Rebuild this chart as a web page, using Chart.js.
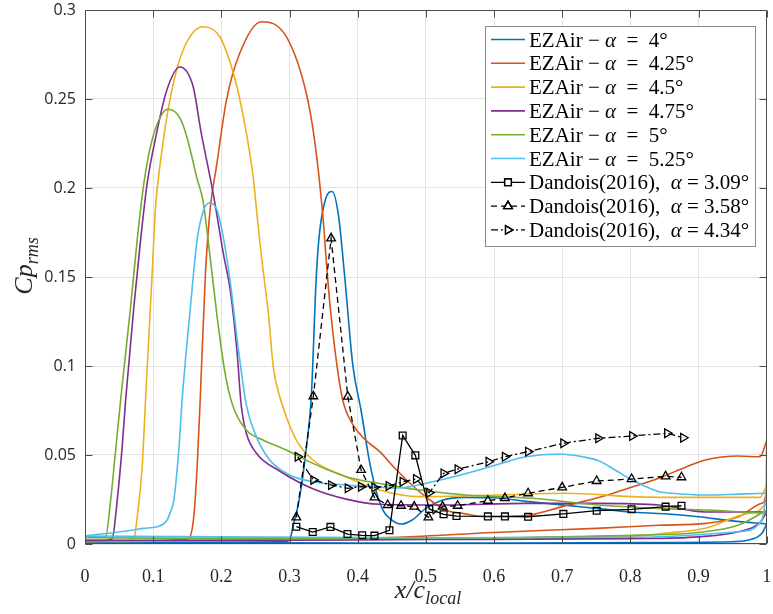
<!DOCTYPE html>
<html>
<head>
<meta charset="utf-8">
<script src="https://cdn.jsdelivr.net/npm/chart.js@4.4.1/dist/chart.umd.min.js"></script>
<style>
html, body { margin: 0; padding: 0; background: #fff; }
canvas { display: block; }
</style>
</head>
<body>
<canvas id="cpChart" width="773" height="614"></canvas>
<script>
// values
// every EZAir curve = upper side + lower side (both with x going up), they meet at x = 1

const ez400UpX = [0, 0.1, 0.2, 0.28, 0.3, 0.305, 0.315, 0.325, 0.332, 0.339, 0.343, 0.353, 0.3626, 0.372, 0.381, 0.393, 0.405, 0.417, 0.427, 0.437, 0.447, 0.4636, 0.48, 0.5, 0.525, 0.555, 0.6, 0.65, 0.7, 0.75, 0.8, 0.85, 0.9, 0.95, 1.0];
const ez400UpY = [0.001, 0.001, 0.001, 0.0012, 0.002, 0.0097, 0.0266, 0.055, 0.083, 0.148, 0.171, 0.194, 0.198, 0.184, 0.150, 0.100, 0.075, 0.047, 0.030, 0.019, 0.0144, 0.0112, 0.0135, 0.020, 0.0247, 0.0262, 0.026, 0.0238, 0.022, 0.020, 0.018, 0.017, 0.0153, 0.013, 0.0112];
const ez400LoX = [0, 0.2, 0.4, 0.6, 0.8, 0.949, 0.97, 0.993, 1.0];
const ez400LoY = [0.001, 0.0008, 0.0006, 0.0006, 0.0008, 0.0013, 0.002, 0.006, 0.0112];

const ez425UpX = [0, 0.1, 0.145, 0.152, 0.1596, 0.1645, 0.169, 0.1767, 0.184, 0.1928, 0.2075, 0.227, 0.2587, 0.2953, 0.3246, 0.3367, 0.349, 0.3538, 0.3587, 0.3685, 0.378, 0.393, 0.41, 0.432, 0.456, 0.48, 0.505, 0.53, 0.554, 0.588, 0.627, 0.656, 0.7, 0.73, 0.77, 0.8027, 0.842, 0.88, 0.91, 0.959, 0.99, 1.0];
const ez425UpY = [0.002, 0.002, 0.0025, 0.003, 0.0153, 0.0434, 0.081, 0.152, 0.1895, 0.212, 0.2494, 0.2757, 0.2934, 0.285, 0.2532, 0.227, 0.184, 0.16, 0.137, 0.1034, 0.081, 0.067, 0.059, 0.052, 0.042, 0.033, 0.025, 0.019, 0.0172, 0.0153, 0.0155, 0.0165, 0.021, 0.0238, 0.028, 0.032, 0.037, 0.043, 0.0472, 0.0494, 0.049, 0.058];
const ez425LoX = [0, 0.1, 0.3, 0.461, 0.6, 0.75, 0.842, 0.91, 0.959, 0.993, 0.9995, 1.0];
const ez425LoY = [0.002, 0.002, 0.0025, 0.0038, 0.0065, 0.0088, 0.0105, 0.0116, 0.0153, 0.0229, 0.03, 0.058];

const ez450UpX = [0, 0.06, 0.0717, 0.0766, 0.0839, 0.0888, 0.0985, 0.1035, 0.111, 0.1245, 0.144, 0.1732, 0.1977, 0.215, 0.227, 0.238, 0.2464, 0.2523, 0.2587, 0.2694, 0.276, 0.2807, 0.2953, 0.31, 0.3343, 0.383, 0.432, 0.4905, 0.55, 0.6076, 0.705, 0.8126, 0.9, 0.99, 1.0];
const ez450UpY = [0.0015, 0.002, 0.0032, 0.0153, 0.0434, 0.081, 0.152, 0.1895, 0.2157, 0.2494, 0.2775, 0.2906, 0.285, 0.268, 0.25, 0.228, 0.207, 0.185, 0.162, 0.128, 0.1, 0.09, 0.0715, 0.0584, 0.0472, 0.0378, 0.0303, 0.0266, 0.027, 0.0275, 0.0285, 0.0265, 0.0262, 0.0262, 0.033];
const ez450LoX = [0, 0.06, 0.2, 0.4, 0.6076, 0.8126, 0.85, 0.91, 0.9736, 0.998, 1.0];
const ez450LoY = [0.0015, 0.0015, 0.002, 0.0025, 0.0032, 0.0045, 0.006, 0.0088, 0.0172, 0.0229, 0.033];

const ez475UpX = [0, 0.03, 0.04, 0.0473, 0.0546, 0.0596, 0.0717, 0.0816, 0.0912, 0.105, 0.1196, 0.139, 0.1586, 0.17, 0.188, 0.2035, 0.2133, 0.223, 0.2294, 0.2367, 0.2514, 0.2855, 0.3343, 0.383, 0.432, 0.5295, 0.6467, 0.75, 0.842, 0.91, 1.0];
const ez475UpY = [0.002, 0.002, 0.0032, 0.0247, 0.055, 0.081, 0.1333, 0.171, 0.2026, 0.2307, 0.2545, 0.268, 0.257, 0.232, 0.197, 0.162, 0.142, 0.108, 0.077, 0.0622, 0.051, 0.041, 0.031, 0.0252, 0.0223, 0.0219, 0.0228, 0.0228, 0.0219, 0.018, 0.018];
const ez475LoX = [0, 0.2, 0.5, 0.8, 0.9, 0.96, 0.99, 1.0];
const ez475LoY = [0.002, 0.002, 0.0025, 0.003, 0.004, 0.007, 0.012, 0.018];

const ez500UpX = [0, 0.02, 0.0303, 0.0376, 0.045, 0.0523, 0.0669, 0.0766, 0.0864, 0.096, 0.11, 0.122, 0.139, 0.15, 0.1645, 0.173, 0.183, 0.1937, 0.205, 0.2157, 0.2367, 0.261, 0.2953, 0.3343, 0.383, 0.432, 0.4905, 0.5588, 0.656, 0.754, 0.842, 0.91, 1.0];
const ez500UpY = [0.004, 0.004, 0.0041, 0.0247, 0.0528, 0.081, 0.1333, 0.171, 0.2026, 0.2232, 0.2395, 0.2442, 0.2395, 0.228, 0.205, 0.193, 0.163, 0.128, 0.097, 0.079, 0.064, 0.0584, 0.0528, 0.0453, 0.0378, 0.034, 0.0303, 0.0275, 0.0257, 0.0219, 0.020, 0.0191, 0.0172];
const ez500LoX = [0, 0.3, 0.6, 0.8126, 0.9, 0.959, 1.0];
const ez500LoY = [0.0035, 0.003, 0.0035, 0.005, 0.0065, 0.0107, 0.019];

const ez525UpX = [0, 0.0717, 0.0854, 0.106, 0.1205, 0.1245, 0.1303, 0.1376, 0.1425, 0.1547, 0.1645, 0.1742, 0.183, 0.1937, 0.2035, 0.2133, 0.2255, 0.2367, 0.2514, 0.2709, 0.3, 0.3343, 0.383, 0.43, 0.46, 0.51, 0.578, 0.6076, 0.6467, 0.695, 0.73, 0.754, 0.78, 0.8027, 0.842, 0.861, 0.91, 0.96, 1.0];
const ez525UpY = [0.0045, 0.0079, 0.0088, 0.0097, 0.0135, 0.0172, 0.0247, 0.0528, 0.081, 0.1333, 0.171, 0.1876, 0.1917, 0.1876, 0.171, 0.1465, 0.108, 0.078, 0.0603, 0.0472, 0.0388, 0.035, 0.0331, 0.032, 0.0315, 0.035, 0.0416, 0.045, 0.049, 0.0506, 0.049, 0.0467, 0.041, 0.036, 0.0294, 0.0285, 0.0275, 0.028, 0.0285];
const ez525LoX = [0, 0.2, 0.5, 0.8126, 0.959, 0.993, 1.0];
const ez525LoY = [0.0045, 0.004, 0.0035, 0.0038, 0.0069, 0.0135, 0.0285];

const d309X = [0.31, 0.334, 0.36, 0.385, 0.4066, 0.4246, 0.4466, 0.466, 0.4846, 0.505, 0.526, 0.545, 0.591, 0.616, 0.65, 0.7017, 0.7506, 0.8018, 0.8517, 0.875];
const d309Y = [0.0097, 0.0067, 0.0096, 0.0056, 0.0049, 0.0047, 0.0077, 0.061, 0.0498, 0.0197, 0.0167, 0.0157, 0.0155, 0.0155, 0.0153, 0.0169, 0.0187, 0.0195, 0.021, 0.0215];

const d358X = [0.31, 0.335, 0.361, 0.3855, 0.405, 0.4246, 0.444, 0.4636, 0.483, 0.5037, 0.5246, 0.5466, 0.591, 0.616, 0.65, 0.70, 0.7506, 0.8018, 0.8517, 0.875];
const d358Y = [0.015, 0.083, 0.1717, 0.0828, 0.0416, 0.0262, 0.0219, 0.0215, 0.021, 0.015, 0.021, 0.0215, 0.0243, 0.0258, 0.0285, 0.0318, 0.0354, 0.0365, 0.038, 0.0375];

const d434X = [0.312, 0.335, 0.361, 0.3855, 0.405, 0.4246, 0.4455, 0.466, 0.4856, 0.505, 0.526, 0.5466, 0.592, 0.616, 0.65, 0.7017, 0.753, 0.8027, 0.854, 0.8775];
const d434Y = [0.049, 0.036, 0.0331, 0.0313, 0.0322, 0.0318, 0.0326, 0.035, 0.0365, 0.0288, 0.0397, 0.042, 0.0462, 0.049, 0.0519, 0.0566, 0.0594, 0.0607, 0.0622, 0.0597];

const ezAngles = ['4', '4.25', '4.5', '4.75', '5', '5.25'];
const dandoisAngles = ['3.09', '3.58', '4.34'];
const xTicks = [0, 0.1, 0.2, 0.3, 0.4, 0.5, 0.6, 0.7, 0.8, 0.9, 1];
const yTicks = [0, 0.05, 0.1, 0.15, 0.2, 0.25, 0.3];

const ezColors = ['#0072BD', '#D95319', '#EDB120', '#7E2F8E', '#77AC30', '#4DBEEE'];
const ezUp = [[ez400UpX, ez400UpY], [ez425UpX, ez425UpY], [ez450UpX, ez450UpY], [ez475UpX, ez475UpY], [ez500UpX, ez500UpY], [ez525UpX, ez525UpY]];
const ezLo = [[ez400LoX, ez400LoY], [ez425LoX, ez425LoY], [ez450LoX, ez450LoY], [ez475LoX, ez475LoY], [ez500LoX, ez500LoY], [ez525LoX, ez525LoY]];

const dSets = [[d309X, d309Y], [d358X, d358Y], [d434X, d434Y]];
const dMarkers = ['rect', 'triangle', 'triangle'];
const dRotation = [0, 0, 90];
const dDash = [[], [6, 4], [7, 3, 2, 3]];

function toPoints(xs, ys) {
    return xs.map((x, i) => ({ x: x, y: ys[i] }));
}

const datasets = [];
ezColors.forEach((col, i) => {
    [ezLo[i], ezUp[i]].forEach((side, k) => {
        datasets.push({
            data: toPoints(side[0], side[1]),
            showLine: true,
            borderColor: col,
            borderWidth: 1.6,
            pointRadius: 0,
            cubicInterpolationMode: 'monotone',
            order: 40 - i * 2 - k
        });
    });
});
dSets.forEach((set, i) => {
    datasets.push({
        data: toPoints(set[0], set[1]),
        showLine: true,
        borderColor: '#000',
        borderWidth: 1.3,
        borderDash: dDash[i],
        pointStyle: dMarkers[i],
        rotation: dRotation[i],
        pointRadius: dMarkers[i] === 'rect' ? 4.8 : 5,
        pointBorderColor: '#000',
        pointBackgroundColor: 'rgba(0,0,0,0)',
        pointBorderWidth: 1.3,
        tension: 0,
        order: 5 - i
    });
});

//helper to write text in pieces with different fonts
function drawRuns(ctx, x, y, runs) {
    runs.forEach(r => {
        ctx.font = r.font;
        ctx.fillText(r.t, x, y + (r.dy || 0));
        x += ctx.measureText(r.t).width;
    });
    return x;
}
function runsWidth(ctx, runs) {
    let w = 0;
    runs.forEach(r => { ctx.font = r.font; w += ctx.measureText(r.t).width; });
    return w;
}

const serif = '"Liberation Serif", "DejaVu Serif", serif';

const decor = {
    id: 'decor',
    afterDraw(chart) {
        const { ctx, chartArea: a, scales } = chart;
        const L = Math.round(a.left) + 0.5, R = Math.round(a.right) - 0.5;
        const T = Math.round(a.top) + 0.5, B = Math.round(a.bottom) - 0.5;
        ctx.save();

        //axes box
        ctx.strokeStyle = '#4d4d4d';
        ctx.lineWidth = 1;
        ctx.strokeRect(L, T, R - L, B - T);

        //inward ticks on all four sides
        ctx.beginPath();
        xTicks.forEach(v => {
            const px = Math.round(scales.x.getPixelForValue(v)) + 0.5;
            ctx.moveTo(px, B); ctx.lineTo(px, B - 7);
            ctx.moveTo(px, T); ctx.lineTo(px, T + 7);
        });
        yTicks.forEach(v => {
            const py = Math.round(scales.y.getPixelForValue(v)) + 0.5;
            ctx.moveTo(L, py); ctx.lineTo(L + 7, py);
            ctx.moveTo(R, py); ctx.lineTo(R - 7, py);
        });
        ctx.stroke();

        //axis titles
        ctx.fillStyle = '#262626';
        ctx.textAlign = 'left';
        ctx.textBaseline = 'alphabetic';
        const xTitle = [
            { t: 'x/c', font: 'italic 26px ' + serif },
            { t: 'local', font: 'italic 18px ' + serif, dy: 6 }
        ];
        const xw = runsWidth(ctx, xTitle);
        drawRuns(ctx, 428 - xw / 2, 598, xTitle);

        const yTitle = [
            { t: 'Cp', font: 'italic 26px ' + serif },
            { t: 'rms', font: 'italic 18px ' + serif, dy: 6 }
        ];
        const yw = runsWidth(ctx, yTitle);
        ctx.save();
        ctx.translate(32, 266);
        ctx.rotate(-Math.PI / 2);
        drawRuns(ctx, -yw / 2, 0, yTitle);
        ctx.restore();

        //legend
        const lx = 485.5, ly = 26.5, lw = 270, lh = 220;
        ctx.fillStyle = '#fff';
        ctx.fillRect(lx, ly, lw, lh);
        ctx.strokeStyle = '#8c8c8c';
        ctx.strokeRect(lx, ly, lw, lh);
        const rowH = 23.8;
        const labelFont = '21px ' + serif;
        const alphaFont = 'italic 21px ' + serif;
        ctx.fillStyle = '#000';
        ezAngles.forEach((ang, i) => {
            const y = 39.5 + i * rowH;
            ctx.strokeStyle = ezColors[i];
            ctx.lineWidth = 1.6;
            ctx.setLineDash([]);
            ctx.beginPath(); ctx.moveTo(491, y); ctx.lineTo(525, y); ctx.stroke();
            drawRuns(ctx, 529, y + 7, [
                { t: 'EZAir \u2212 ', font: labelFont },
                { t: '\u03b1', font: alphaFont },
                { t: '  =  ' + ang + '\u00b0', font: labelFont }
            ]);
        });
        dandoisAngles.forEach((ang, i) => {
            const y = 39.5 + (i + 6) * rowH;
            ctx.strokeStyle = '#000';
            ctx.lineWidth = 1.3;
            ctx.setLineDash(dDash[i]);
            ctx.beginPath(); ctx.moveTo(491, y); ctx.lineTo(525, y); ctx.stroke();
            ctx.setLineDash([]);
            ctx.fillStyle = '#fff';
            Chart.helpers.drawPoint(ctx, {
                pointStyle: dMarkers[i], rotation: dRotation[i],
                radius: dMarkers[i] === 'rect' ? 4.8 : 5, borderWidth: 1.3
            }, 508, y);
            ctx.stroke();
            ctx.fillStyle = '#000';
            drawRuns(ctx, 529, y + 7, [
                { t: 'Dandois(2016),  ', font: labelFont },
                { t: '\u03b1', font: alphaFont },
                { t: ' = ' + ang + '\u00b0', font: labelFont }
            ]);
        });
        ctx.restore();
    }
};

function fmt(v) {
    return String(Number(v.toFixed(2)));
}

const chartCtx = document.getElementById('cpChart').getContext('2d');
const cpChart = new Chart(chartCtx, {
    type: 'scatter',
    data: { datasets: datasets },
    options: {
        responsive: false,
        animation: false,
        events: [],
        layout: { padding: { top: 10, right: 5, left: 0, bottom: 0 } },
        plugins: {
            legend: { display: false },
            tooltip: { enabled: false }
        },
        scales: {
            x: {
                type: 'linear',
                min: 0, max: 1,
                afterBuildTicks: s => { s.ticks = xTicks.map(v => ({ value: v })); },
                ticks: {
                    callback: v => fmt(v),
                    font: { family: serif, size: 18 },
                    color: '#262626',
                    padding: 22,
                    maxRotation: 0
                },
                grid: { color: '#e3e3e3', drawTicks: false },
                border: { display: false },
                afterFit: s => { s.height = 70; s.paddingLeft = 0; s.paddingRight = 0; }
            },
            y: {
                type: 'linear',
                min: 0, max: 0.3,
                afterBuildTicks: s => { s.ticks = yTicks.map(v => ({ value: v })); },
                ticks: {
                    callback: v => fmt(v),
                    font: { family: '"Open Sans", sans-serif', size: 16 },
                    color: '#262626',
                    padding: 9
                },
                grid: { color: '#e3e3e3', drawTicks: false },
                border: { display: false },
                afterFit: s => { s.width = 85; s.paddingTop = 0; s.paddingBottom = 0; }
            }
        }
    },
    plugins: [decor]
});
</script>
</body>
</html>
